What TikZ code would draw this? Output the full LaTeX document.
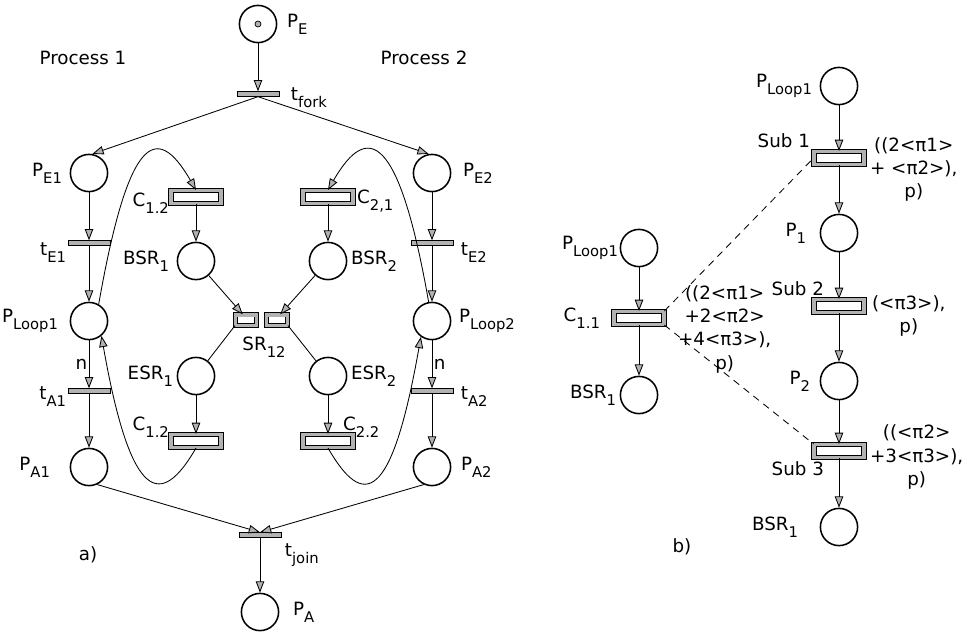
\documentclass[tikz,border=0pt]{standalone}
\usepackage{fontspec}
\setmainfont{DejaVu Sans}
\usetikzlibrary{arrows.meta, positioning}
\newcommand{\lsub}[1]{\raisebox{-0.7ex}{\fontsize{10.5}{10.5}\selectfont #1}}

\begin{document}
\begin{tikzpicture}[
  place/.style={circle, draw, line width=1.1pt, minimum size=0.93cm, inner sep=0pt},
  bar/.style={rectangle, draw, line width=0.4pt, fill=gray!60,
              minimum width=1.05cm, minimum height=0.12cm, inner sep=0pt},
  subst/.style={rectangle, draw, line width=0.6pt, double=gray!60,
                double distance=0.085cm, fill=white,
                minimum width=1.25cm, minimum height=0.33cm, inner sep=0pt},
  srbox/.style={subst, minimum width=0.53cm, minimum height=0.26cm},
  token/.style={circle, draw, line width=0.5pt, fill=gray!60,
                minimum size=0.15cm, inner sep=0pt},
  lbl/.style={inner sep=1pt, font=\fontsize{13}{16}\selectfont},
  note/.style={lbl, align=center, font=\fontsize{13}{16.5}\selectfont},
  arrowln/.style={-{Triangle[length=8pt, width=6pt, fill=gray!60]}, line width=0.6pt},
  plainln/.style={line width=0.6pt},
  refline/.style={dash pattern=on 5pt off 4pt, line width=0.6pt}
]
\useasboundingbox (0,0) rectangle (24.3,-15.9);

\begin{scope}[on grid]
\node[place]  (pe)    at (6.45,-0.6) {};
\node[bar,    below=1.75cm of pe]    (tfork) {};
\node[place]  (pe1)   at (2.225,-4.325) {};
\node[bar,    below=1.75cm of pe1]   (te1) {};
\node[place,  below=1.95cm of te1]   (pl1) {};
\node[bar,    below=1.75cm of pl1]   (ta1) {};
\node[place,  below=1.9cm of ta1]    (pa1) {};
\node[place]  (pe2)   at (10.8,-4.325) {};
\node[bar,    below=1.75cm of pe2]   (te2) {};
\node[place,  below=1.95cm of te2]   (pl2) {};
\node[bar,    below=1.75cm of pl2]   (ta2) {};
\node[place,  below=1.9cm of ta2]    (pa2) {};
\node[subst]  (c12a)  at (4.9,-4.925) {};
\node[place,  below=1.6cm of c12a]   (bsr1) {};
\node[subst]  (c21)   at (8.2,-4.925) {};
\node[place,  below=1.6cm of c21]    (bsr2) {};
\node[srbox]  (sr1)   at (6.15,-8.0) {};
\node[srbox,  right=0.775cm of sr1]  (sr2) {};
\node[place]  (esr1)  at (4.9,-9.4) {};
\node[subst,  below=1.625cm of esr1] (c12b) {};
\node[place]  (esr2)  at (8.2,-9.4) {};
\node[subst,  below=1.625cm of esr2] (c22) {};
\node[bar]    (tjoin) at (6.5,-13.375) {};
\node[place,  below=1.925cm of tjoin] (pa) {};

\node[place]  (lpb)   at (20.975,-2.15) {};
\node[subst,  below=1.8cm of lpb]    (sub1) {};
\node[place,  below=1.875cm of sub1] (p1) {};
\node[subst,  below=1.825cm of p1]   (sub2) {};
\node[place,  below=1.875cm of sub2] (p2) {};
\node[subst,  below=1.75cm of p2]    (sub3) {};
\node[place,  below=1.9cm of sub3]   (bsrb) {};
\node[place]  (lpl)   at (15.975,-6.2) {};
\node[subst,  below=1.75cm of lpl]   (c11) {};
\node[place,  below=1.925cm of c11]  (bsrl) {};
\end{scope}
\node[token] (tok) at (pe) {};

\node[lbl] (proc1) at (2.075,-1.45) {Process 1};
\node[lbl] (proc2) at (10.6,-1.45)  {Process 2};
\node[lbl, right=0.2cm of pe]                  (pel)    {P\lsub{E}};
\node[lbl, right=0.25cm of tfork, yshift=-0.1cm] (tforkl) {t\lsub{fork}};
\node[lbl, left=0.15cm of pe1]                 (pe1l)   {P\lsub{E1}};
\node[lbl, right=0.25cm of pe2]                (pe2l)   {P\lsub{E2}};
\node[lbl, left=0cm of te1, yshift=-0.25cm]    (te1l)   {t\lsub{E1}};
\node[lbl, right=0.15cm of te2, yshift=-0.25cm] (te2l)  {t\lsub{E2}};
\node[lbl, left=0.25cm of pl1]                 (pl1l)   {P\lsub{Loop1}};
\node[lbl, right=0.15cm of pl2]                (pl2l)   {P\lsub{Loop2}};
\node[lbl, left=0cm of ta1, yshift=-0.15cm]    (ta1l)   {t\lsub{A1}};
\node[lbl, right=0.15cm of ta2, yshift=-0.15cm] (ta2l)  {t\lsub{A2}};
\node[lbl, left=0.45cm of pa1]                 (pa1l)   {P\lsub{A1}};
\node[lbl, right=0.2cm of pa2]                 (pa2l)   {P\lsub{A2}};
\node[lbl, left=0cm of c12a, yshift=-0.15cm]   (c12al)  {C\lsub{1.2}};
\node[lbl, right=0.05cm of c21, yshift=-0.1cm] (c21l)   {C\lsub{2,1}};
\node[lbl, left=0.15cm of bsr1]                (bsr1l)  {BSR\lsub{1}};
\node[lbl, right=0.05cm of bsr2]               (bsr2l)  {BSR\lsub{2}};
\node[lbl] (srl) at (6.6,-8.675) {SR\lsub{12}};
\node[lbl, left=0.05cm of esr1]                (esr1l)  {ESR\lsub{1}};
\node[lbl, right=0.05cm of esr2]               (esr2l)  {ESR\lsub{2}};
\node[lbl, above left=-0.12cm and 0cm of c12b]    (c12bl) {C\lsub{1.2}};
\node[lbl, above right=-0.12cm and -0.3cm of c22] (c22l)  {C\lsub{2.2}};
\node[lbl, below right=0.1cm and 0.05cm of tjoin] (tjoinl) {t\lsub{join}};
\node[lbl, right=0.3cm of pa]                  (pal)    {P\lsub{A}};
\node[lbl] (parta) at (2.2,-13.875) {a)};

\node[lbl, left=0.15cm of lpb]                      (lpbl)  {P\lsub{Loop1}};
\node[lbl, above left=0.05cm and 0.05cm of sub1]    (sub1l) {Sub 1};
\node[note, right=0.1cm of sub1, yshift=-0.28cm]    (sub1n) {((2<π1>\\+ <π2>),\\p)};
\node[lbl, left=0.3cm of p1]                        (p1l)   {P\lsub{1}};
\node[lbl, above left=0.05cm and -0.3cm of sub2]    (sub2l) {Sub 2};
\node[note, right=0.15cm of sub2, yshift=-0.25cm]   (sub2n) {(<π3>),\\p)};
\node[lbl, left=0.2cm of p2]                        (p2l)   {P\lsub{2}};
\node[lbl, below left=0.05cm and -0.3cm of sub3]    (sub3l) {Sub 3};
\node[note, right=0.1cm of sub3, yshift=-0.15cm]    (sub3n) {((<π2>\\+3<π3>),\\p)};
\node[lbl, left=0.5cm of bsrb]                      (bsrbl) {BSR\lsub{1}};
\node[lbl, left=0cm of lpl]                         (lpll)  {P\lsub{Loop1}};
\node[lbl, left=0.3cm of c11]                       (c11l)  {C\lsub{1.1}};
\node[note, right=0.3cm of c11, yshift=-0.28cm]     (c11n)  {((2<π1>\\+2<π2>\\+4<π3>),\\p)};
\node[lbl, left=0.05cm of bsrl]                     (bsrll) {BSR\lsub{1}};
\node[lbl] (partb) at (17.05,-13.675) {b)};

\draw[arrowln] (pe) -- (tfork);
\draw[arrowln] (tfork.south) -- (pe1.80);
\draw[arrowln] (tfork.south) -- (pe2.100);
\draw[arrowln] (pe1) -- (te1);
\draw[arrowln] (te1) -- (pl1);
\draw[arrowln] (pl1) -- node[lbl, left] (n1) {n} (ta1);
\draw[arrowln] (ta1) -- (pa1);
\draw[arrowln] (pe2) -- (te2);
\draw[arrowln] (te2) -- (pl2);
\draw[arrowln] (pl2) -- node[lbl, right] (n2) {n} (ta2);
\draw[arrowln] (ta2) -- (pa2);
\draw[arrowln] (pa1.-65) -- (tjoin.north);
\draw[arrowln] (pa2.-115) -- (tjoin.north);
\draw[arrowln] (tjoin) -- (pa);
\draw[arrowln] (pl1.60) .. controls +(80:4.25cm) and +(120:2cm) .. (c12a.north);
\draw[arrowln] (c12b.south) .. controls +(-120:1.75cm) and +(-80:4.25cm) .. (pl1.-50);
\draw[arrowln] (pl2.100) .. controls +(100:4.25cm) and +(60:2cm) .. (c21.north);
\draw[arrowln] (c22.south) .. controls +(-60:1.75cm) and +(-100:4.25cm) .. (pl2.-125);
\draw[arrowln] (c12a) -- (bsr1);
\draw[arrowln] (c21) -- (bsr2);
\draw[arrowln] (bsr1) -- (sr1.120);
\draw[arrowln] (bsr2) -- (sr2.60);
\draw[plainln] (sr1.south west) -- (esr1);
\draw[plainln] (sr2.south east) -- (esr2);
\draw[arrowln] (esr1) -- (c12b);
\draw[arrowln] (esr2) -- (c22);

\draw[arrowln] (lpb) -- (sub1);
\draw[arrowln] (sub1) -- (p1);
\draw[arrowln] (p1) -- (sub2);
\draw[arrowln] (sub2) -- (p2);
\draw[arrowln] (p2) -- (sub3);
\draw[arrowln] (sub3) -- (bsrb);
\draw[arrowln] (lpl) -- (c11);
\draw[arrowln] (c11) -- (bsrl);
\draw[refline] (c11.north east) -- (sub1.west);
\draw[refline] (c11.south east) -- (sub3.north west);
\end{tikzpicture}
\end{document}
